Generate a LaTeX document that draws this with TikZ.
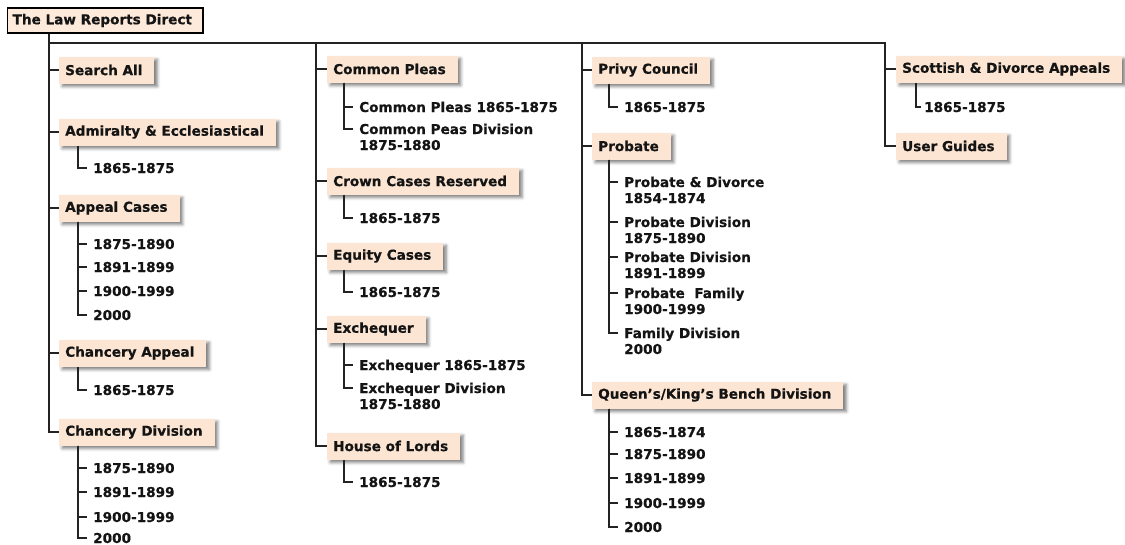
\documentclass[tikz,border=0pt]{standalone}
\usepackage{fontspec}
\setmainfont{DejaVu Sans}[BoldFeatures={FakeBold=0.6}]
\usetikzlibrary{shadows.blur}
\definecolor{peach}{RGB}{252,229,210}
\definecolor{ink}{RGB}{20,20,20}
\definecolor{wirec}{RGB}{35,35,35}
\begin{document}
\begin{tikzpicture}[x=1pt,y=-1pt,
  every node/.style={font=\fontsize{13.6}{16}\selectfont\bfseries, text=ink},
  box/.style={fill=peach, anchor=west, inner xsep=6pt, inner ysep=0pt, minimum height=27pt,
    execute at end node={\hspace*{6pt}},
    blur shadow={shadow xshift=3pt, shadow yshift=-3pt, shadow blur radius=3pt, shadow opacity=50}},
  rootbox/.style={fill=peach!80!white, draw=black, line width=1.3pt, anchor=west, inner xsep=5pt,
    inner ysep=0pt, minimum height=25pt, execute at end node={\hspace*{6pt}}},
  item/.style={anchor=base west, inner sep=0pt, align=left},
  wire/.style={draw=wirec, line width=1.3pt}]
\useasboundingbox (0,0) rectangle (1125,544);

% root
\node[rootbox] (root) at (7,20.5) {The Law Reports Direct};

% column 1
\node[box] (sa)  at (59,70)  {Search All};
\node[box] (adm) at (59,132) {Admiralty \& Ecclesiastical};
\node[box] (ac)  at (59,208) {Appeal Cases};
\node[box] (cha) at (59,353) {Chancery Appeal};
\node[box] (chd) at (59,432) {Chancery Division};
\node[item] (adm1) at (93,173) {1865-1875};
\node[item] (ac1) at (93,249) {1875-1890};
\node[item] (ac2) at (93,272) {1891-1899};
\node[item] (ac3) at (93,296) {1900-1999};
\node[item] (ac4) at (93,320) {2000};
\node[item] (cha1) at (93,395) {1865-1875};
\node[item] (chd1) at (93,473) {1875-1890};
\node[item] (chd2) at (93,497) {1891-1899};
\node[item] (chd3) at (93,522) {1900-1999};
\node[item] (chd4) at (93,543) {2000};

% column 2
\node[box] (cp)  at (327,69)  {Common Pleas};
\node[box] (ccr) at (327,181) {Crown Cases Reserved};
\node[box] (eq)  at (327,256) {Equity Cases};
\node[box] (ex)  at (327,329) {Exchequer};
\node[box] (hl)  at (327,446) {House of Lords};
\node[item] (cp1) at (359,112) {Common Pleas 1865-1875};
\node[item] (cp2) at (359,150) {Common Peas Division\\1875-1880};
\node[item] (ccr1) at (359,223) {1865-1875};
\node[item] (eq1) at (359,297) {1865-1875};
\node[item] (ex1) at (359,370) {Exchequer 1865-1875};
\node[item] (ex2) at (359,409) {Exchequer Division\\1875-1880};
\node[item] (hl1) at (359,487) {1865-1875};

% column 3
\node[box] (pc)  at (592,70)  {Privy Council};
\node[box] (pr)  at (592,146) {Probate};
\node[box] (qkb) at (592,395) {Queen's/King's Bench Division};
\node[item] (pc1) at (624,112) {1865-1875};
\node[item] (pr1) at (624,203) {Probate \& Divorce\\1854-1874};
\node[item] (pr2) at (624,243) {Probate Division\\1875-1890};
\node[item] (pr3) at (624,278) {Probate Division\\1891-1899};
\node[item] (pr4) at (624,314) {Probate\ \ Family\\1900-1999};
\node[item] (pr5) at (624,354) {Family Division\\2000};
\node[item] (qkb1) at (624,437) {1865-1874};
\node[item] (qkb2) at (624,459) {1875-1890};
\node[item] (qkb3) at (624,483) {1891-1899};
\node[item] (qkb4) at (624,508) {1900-1999};
\node[item] (qkb5) at (624,532) {2000};

% column 4
\node[box] (sd) at (896,69)  {Scottish \& Divorce Appeals};
\node[box] (ug) at (896,146) {User Guides};
\node[item] (sd1) at (924,112) {1865-1875};

% trunk
\coordinate (c2) at (316,43);
\coordinate (c3) at (582,43);
\coordinate (c4) at (885,43);
\draw[wire] ([xshift=42pt]root.south west) |- (c4) |- (ug.west);
\draw[wire] (c4) |- (sd.west);
\draw[wire] ([xshift=42pt]root.south west) |- (chd.west);
\foreach \b in {sa,adm,ac,cha}
  \draw[wire] ([xshift=42pt]root.south west) |- (\b.west);
\foreach \b in {cp,ccr,eq,ex,hl}
  \draw[wire] (c2) |- (\b.west);
\foreach \b in {pc,pr,qkb}
  \draw[wire] (c3) |- (\b.west);

% sub-branches (one-line items: tick 5pt above baseline; two-line items: 21pt above last baseline)
\draw[wire] ([xshift=19pt]adm.south west) |- ([xshift=-6pt,yshift=5pt]adm1.base west);
\foreach \i in {1,...,4}
  \draw[wire] ([xshift=19pt]ac.south west) |- ([xshift=-6pt,yshift=5pt]ac\i.base west);
\draw[wire] ([xshift=19pt]cha.south west) |- ([xshift=-6pt,yshift=5pt]cha1.base west);
\foreach \i in {1,...,4}
  \draw[wire] ([xshift=19pt]chd.south west) |- ([xshift=-6pt,yshift=5pt]chd\i.base west);
\draw[wire] ([xshift=17pt]cp.south west) |- ([xshift=-6pt,yshift=5pt]cp1.base west);
\draw[wire] ([xshift=17pt]cp.south west) |- ([xshift=-6pt,yshift=21pt]cp2.base west);
\draw[wire] ([xshift=17pt]ccr.south west) |- ([xshift=-6pt,yshift=5pt]ccr1.base west);
\draw[wire] ([xshift=17pt]eq.south west) |- ([xshift=-6pt,yshift=5pt]eq1.base west);
\draw[wire] ([xshift=17pt]ex.south west) |- ([xshift=-6pt,yshift=5pt]ex1.base west);
\draw[wire] ([xshift=17pt]ex.south west) |- ([xshift=-6pt,yshift=21pt]ex2.base west);
\draw[wire] ([xshift=17pt]hl.south west) |- ([xshift=-6pt,yshift=5pt]hl1.base west);
\draw[wire] ([xshift=17pt]pc.south west) |- ([xshift=-6pt,yshift=5pt]pc1.base west);
\foreach \i in {1,...,5}
  \draw[wire] ([xshift=17pt]pr.south west) |- ([xshift=-6pt,yshift=21pt]pr\i.base west);
\foreach \i in {1,...,5}
  \draw[wire] ([xshift=17pt]qkb.south west) |- ([xshift=-6pt,yshift=5pt]qkb\i.base west);
\draw[wire] ([xshift=20pt]sd.south west) |- ([xshift=-3pt,yshift=5pt]sd1.base west);
\end{tikzpicture}
\end{document}
